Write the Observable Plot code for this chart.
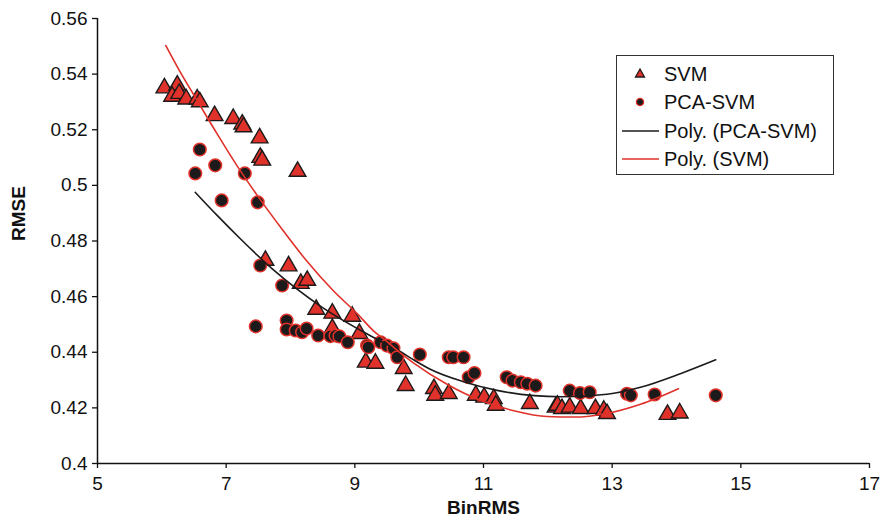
<!DOCTYPE html>
<html>
<head>
<meta charset="utf-8">
<script src="https://cdn.jsdelivr.net/npm/d3@7"></script>
<script src="https://cdn.jsdelivr.net/npm/@observablehq/plot@0.6"></script>
<style>
  html, body { margin: 0; padding: 0; background: #fff; }
  #wrap { position: relative; width: 887px; height: 524px; font-family: "Liberation Sans", Arial, sans-serif; }
  #legend { position: absolute; left: 616px; top: 55px; width: 216px; height: 118px; border: 1.5px solid #333; background: #fff; }
  .row { position: absolute; left: 0; height: 28px; display: flex; align-items: center; font-size: 20px; color: #111; }
  .row svg { width: 46px; height: 28px; }
  .row span { margin-left: 1px; }
</style>
</head>
<body>
<div id="wrap"></div>
<script>
// SVM (triangles)
const svmX = [6.04, 6.24, 6.16, 6.27, 6.38, 6.55, 6.59, 6.82, 7.11, 7.25, 7.27, 7.52, 7.53, 7.56, 8.11,
  7.61, 7.97, 8.16, 8.26, 8.40, 8.65, 8.96, 8.65, 9.07, 9.17, 9.32, 9.76, 9.79, 10.23, 10.25, 10.46,
  10.88, 11.01, 11.16, 11.19, 11.72, 12.12, 12.15, 12.22, 12.34, 12.51, 12.74, 12.87, 12.92, 13.86, 14.05];
const svmY = [0.535, 0.536, 0.532, 0.533, 0.531, 0.531, 0.530, 0.525, 0.524, 0.522, 0.521, 0.517, 0.510, 0.509, 0.505,
  0.473, 0.471, 0.4647, 0.4658, 0.4554, 0.4540, 0.4529, 0.4485, 0.4467, 0.4364, 0.4360, 0.4341, 0.4280, 0.4269, 0.4245, 0.4251,
  0.4245, 0.4238, 0.4233, 0.4209, 0.4215, 0.4202, 0.4209, 0.4197, 0.4202, 0.4197, 0.4197, 0.4191, 0.4179, 0.4176, 0.4181];

// PCA-SVM (circles)
const pcaX = [6.59, 6.83, 6.52, 7.29, 6.93, 7.49, 7.53, 7.87, 7.46, 7.94, 7.94, 8.08, 8.18, 8.25, 8.43, 8.62,
  8.70, 8.76, 8.89, 9.19, 9.21, 9.40, 9.50, 9.60, 9.66, 10.01, 10.46, 10.53, 10.69, 10.77, 10.86,
  11.36, 11.45, 11.58, 11.68, 11.81, 12.34, 12.50, 12.65, 13.23, 13.29, 13.66, 14.61];
const pcaY = [0.5129, 0.5072, 0.5043, 0.5043, 0.4946, 0.4939, 0.4712, 0.4640, 0.4493, 0.4514, 0.4482, 0.4478, 0.4472, 0.4485, 0.4460, 0.4458,
  0.4460, 0.4457, 0.4436, 0.4424, 0.4418, 0.4436, 0.4424, 0.4414, 0.4382, 0.4392, 0.4382, 0.4382, 0.4382, 0.4310, 0.4325,
  0.4310, 0.4298, 0.4292, 0.4287, 0.4280, 0.4262, 0.4253, 0.4256, 0.4251, 0.4245, 0.4248, 0.4245];

// Poly. (SVM) trendline
const polySvmX = [6.06, 6.26, 6.55, 6.86, 7.17, 7.48, 7.89, 8.26, 8.67, 9.04, 9.29, 9.50, 9.71, 9.91, 10.44, 10.95, 11.47, 11.99, 12.40, 12.92, 13.44, 14.03];
const polySvmY = [0.5503, 0.5418, 0.5305, 0.5185, 0.5070, 0.4965, 0.4836, 0.4726, 0.4620, 0.4538, 0.4477, 0.4438, 0.4397, 0.4362, 0.4284, 0.4227, 0.4190, 0.4169, 0.4167, 0.4180, 0.4213, 0.4269];

// Poly. (PCA-SVM) trendline
const polyPcaX = [6.52, 6.86, 7.22, 7.74, 8.47, 9.30, 9.71, 9.92, 10.18, 10.69, 11.21, 12.20, 12.92, 13.44, 14.06, 14.61];
const polyPcaY = [0.4975, 0.4892, 0.4808, 0.4695, 0.4565, 0.4452, 0.4402, 0.4372, 0.4338, 0.4294, 0.4263, 0.4240, 0.4249, 0.4274, 0.4323, 0.4373];

const xTicks = [5, 7, 9, 11, 13, 15, 17];
const yTicks = [0.40, 0.42, 0.44, 0.46, 0.48, 0.50, 0.52, 0.54, 0.56];
const seriesNames = ["SVM", "PCA-SVM", "Poly. (PCA-SVM)", "Poly. (SVM)"];
const xLabel = "BinRMS";
const yLabel = "RMSE";

const RED = "#e0322a";
const DARK = "#1c1a1a";

const svm = svmX.map((x, i) => ({x, y: svmY[i]}));
const pca = pcaX.map((x, i) => ({x, y: pcaY[i]}));
const polySvm = polySvmX.map((x, i) => ({x, y: polySvmY[i]}));
const polyPca = polyPcaX.map((x, i) => ({x, y: polyPcaY[i]}));

const chart = Plot.plot({
  width: 887,
  height: 524,
  marginLeft: 97,
  marginRight: 18,
  marginTop: 18,
  marginBottom: 61,
  style: {fontFamily: '"Liberation Sans", Arial, sans-serif', background: "#fff", color: "#111"},
  x: {domain: [5, 17]},
  y: {domain: [0.4, 0.56]},
  marks: [
    Plot.axisX({ticks: xTicks, tickSize: 5, tickPadding: 8, fontSize: 19, label: null, stroke: "#111", strokeWidth: 1.3}),
    Plot.axisY({ticks: yTicks, tickSize: 5, tickPadding: 5, fontSize: 19, label: null, tickFormat: d => String(+d.toFixed(2)), stroke: "#111", strokeWidth: 1.3}),
    Plot.ruleX([xTicks[0]], {stroke: "#111", strokeWidth: 1.5}),
    Plot.ruleY([yTicks[0]], {stroke: "#111", strokeWidth: 1.5}),
    Plot.text([yLabel], {frameAnchor: "left", dx: -79, rotate: -90, fontSize: 19, fontWeight: "bold", fill: "#111"}),
    Plot.text([xLabel], {frameAnchor: "bottom", dy: 50, fontSize: 19, fontWeight: "bold", fill: "#111"}),
    Plot.dot(svm, {x: "x", y: "y", symbol: "triangle", r: 6.2, fill: RED, stroke: DARK, strokeWidth: 1.4}),
    Plot.dot(pca, {x: "x", y: "y", symbol: "circle", r: 6.3, fill: DARK, stroke: RED, strokeWidth: 1.5}),
    Plot.line(polyPca, {x: "x", y: "y", stroke: DARK, strokeWidth: 1.6, curve: "monotone-x"}),
    Plot.line(polySvm, {x: "x", y: "y", stroke: RED, strokeWidth: 1.6, curve: "monotone-x"})
  ]
});

const wrap = document.getElementById("wrap");
wrap.appendChild(chart);

// Legend
const legend = document.createElement("div");
legend.id = "legend";
const symbols = [
  '<polygon points="23,9 27.5,17 18.5,17" fill="' + RED + '" stroke="' + DARK + '" stroke-width="1.3"/>',
  '<circle cx="23" cy="14" r="3.6" fill="' + DARK + '" stroke="' + RED + '" stroke-width="1.3"/>',
  '<line x1="5" y1="14" x2="42" y2="14" stroke="' + DARK + '" stroke-width="1.6"/>',
  '<line x1="5" y1="14" x2="42" y2="14" stroke="' + RED + '" stroke-width="1.6"/>'
];
const rowTops = [4, 32, 61, 89];
seriesNames.forEach((name, i) => {
  const row = document.createElement("div");
  row.className = "row";
  row.style.top = rowTops[i] + "px";
  row.innerHTML = '<svg viewBox="0 0 46 28">' + symbols[i] + '</svg><span>' + name + '</span>';
  legend.appendChild(row);
});
wrap.appendChild(legend);
</script>
</body>
</html>
